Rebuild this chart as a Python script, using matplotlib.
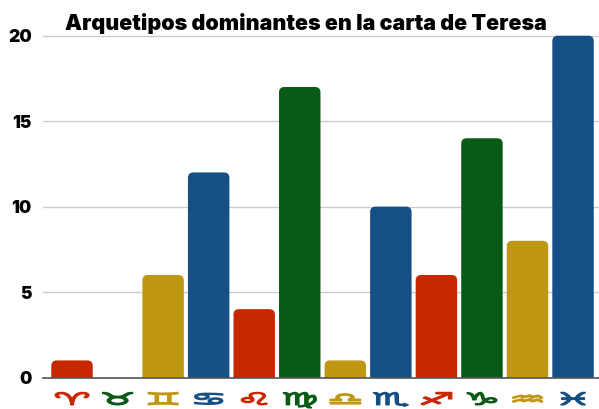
import matplotlib
matplotlib.use('Agg')
import matplotlib.pyplot as plt
from matplotlib.patches import FancyBboxPatch
from matplotlib.patheffects import AbstractPathEffect
from matplotlib.transforms import Affine2D

# Values per sign
signs = ['♈', '♉', '♊', '♋', '♌', '♍', '♎', '♏', '♐', '♑', '♒', '♓']
values = [1, 0, 6, 12, 4, 17, 1, 10, 6, 14, 8, 20]
colors = ['#c82800', '#095a14', '#bf9713', '#154f85'] * 3
title = 'Arquetipos dominantes en la carta de Teresa'
yticks = [0, 5, 10, 15, 20]


# the zodiac glyphs in the original are much wider than tall
class WideGlyph(AbstractPathEffect):
    def __init__(self, sx, lw):
        super().__init__()
        self.sx = sx
        self.lw = lw

    def draw_path(self, renderer, gc, tpath, affine, rgbFace):
        ext = tpath.get_extents(affine)
        cx = (ext.x0 + ext.x1) / 2
        wide = affine + Affine2D().translate(-cx, 0).scale(self.sx, 1).translate(cx, 0)
        gc0 = renderer.new_gc()
        gc0.copy_properties(gc)
        gc0.set_foreground(rgbFace)
        gc0.set_linewidth(self.lw)
        renderer.draw_path(gc0, tpath, wide, rgbFace)
        gc0.restore()


W, H = 599, 409
fig = plt.figure(figsize=(W / 100, H / 100), dpi=100)
ax = fig.add_axes([43 / W, 1 - 377.5 / H, 556 / W, 343.5 / H])
ax.set_xlim(-0.637, 11.57)
ax.set_ylim(0, 20.1)

for s in ['top', 'right', 'left']:
    ax.spines[s].set_visible(False)
ax.spines['bottom'].set_color('#555555')
ax.spines['bottom'].set_linewidth(1.2)

ax.yaxis.grid(True, color='#cccccc', linewidth=1)
ax.set_axisbelow(True)
ax.tick_params(length=0)
ax.set_yticks(yticks)
ax.set_yticklabels([str(y) for y in yticks], fontfamily='Inter', fontweight='black',
                   fontsize=12.5, color='black')
ax.tick_params(axis='y', pad=8)

# rounded bars, bottom corners hidden below the axis
bar_w = 0.91
aspect = (556 / 12.207) / (343.5 / 20.1)
for i, v in enumerate(values):
    if v == 0:
        continue
    p = FancyBboxPatch((i - bar_w / 2, -1), bar_w, v + 1,
                       boxstyle='round,pad=0,rounding_size=0.12',
                       mutation_aspect=aspect, facecolor=colors[i], edgecolor='none')
    ax.add_patch(p)

ax.set_xticks(range(len(signs)))
ax.set_xticklabels(signs, fontfamily='DejaVu Sans', fontsize=12)
for lab, c in zip(ax.get_xticklabels(), colors):
    lab.set_color(c)
    lab.set_path_effects([WideGlyph(2.5, 1.1)])
ax.tick_params(axis='x', pad=9.5)

fig.text(305.5 / W, 1 - 23 / H, title, ha='center', va='center', fontfamily='Inter',
         fontweight='black', fontsize=15.45, color='black')

fig.savefig('out.png', dpi=100)
